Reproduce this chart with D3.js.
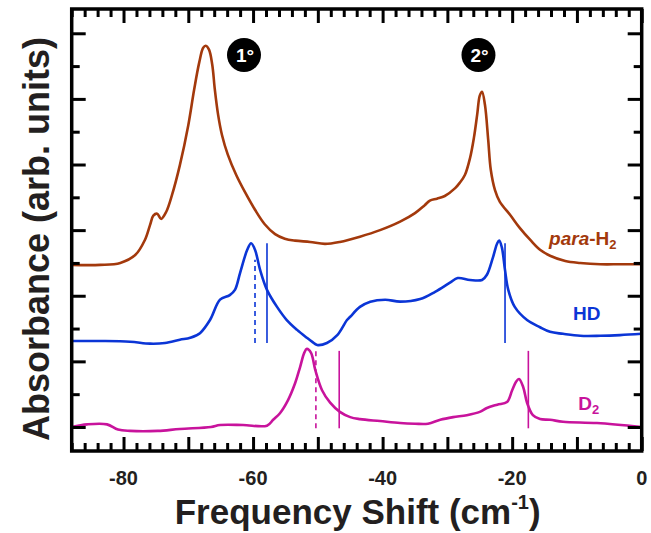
<!DOCTYPE html>
<html>
<head>
<meta charset="utf-8">
<script src="https://cdn.jsdelivr.net/npm/d3@7"></script>
<style>
	body { margin: 0; background: #fff; }
	svg text { font-family: "Liberation Sans", Arial, Helvetica, sans-serif; font-weight: bold; }
</style>
</head>
<body>
<div id="chart"></div>
<script>
// spectra: [frequency shift (cm-1), absorbance (offset, arb. units)]
const paraH2 = [
	[-88, 2.47], [-83.6, 2.47], [-80.5, 2.5], [-78.2, 2.62], [-76.7, 2.85], [-75.9, 3.08],
	[-75.4, 3.22], [-74.8, 3.25], [-74.2, 3.17], [-73.4, 3.28], [-72.5, 3.54], [-71.3, 3.99],
	[-70.0, 4.6], [-69.1, 5.14], [-68.3, 5.56], [-67.7, 5.78], [-67.3, 5.81], [-66.8, 5.75],
	[-66.3, 5.52], [-65.9, 5.14], [-65.4, 4.76], [-64.8, 4.45], [-63.9, 4.15], [-62.6, 3.84],
	[-61.2, 3.57], [-59.7, 3.31], [-58.2, 3.09], [-56.6, 2.94], [-55.1, 2.87], [-53.5, 2.84],
	[-51.2, 2.82], [-48.9, 2.79], [-46.6, 2.82], [-43.5, 2.9], [-40.4, 3.0], [-37.3, 3.13],
	[-35.0, 3.26], [-33.5, 3.38], [-32.7, 3.45], [-31.6, 3.48], [-30.4, 3.52], [-28.8, 3.64],
	[-28.1, 3.72], [-27.3, 3.84], [-26.5, 4.1], [-25.9, 4.41], [-25.4, 4.76], [-25.0, 5.05],
	[-24.65, 5.11], [-24.2, 4.91], [-23.7, 4.38], [-23.3, 3.92], [-22.65, 3.61], [-21.9, 3.43],
	[-20.3, 3.23], [-18.8, 3.03], [-17.2, 2.85], [-15.7, 2.7], [-14.15, 2.61], [-11.8, 2.53],
	[-9.5, 2.5], [-6.4, 2.48], [-3.35, 2.48], [0, 2.48]
];
const hd = [
	[-88, 1.31], [-83.6, 1.31], [-79.0, 1.3], [-75.9, 1.27], [-73.6, 1.28], [-71.3, 1.33],
	[-69.7, 1.36], [-68.2, 1.43], [-66.65, 1.63], [-65.1, 1.94], [-63.6, 2.01], [-62.8, 2.09],
	[-62.0, 2.35], [-60.9, 2.7], [-60.3, 2.8], [-59.7, 2.7], [-58.9, 2.39], [-57.85, 2.09],
	[-56.3, 1.83], [-54.8, 1.63], [-53.2, 1.48], [-51.7, 1.36], [-50.9, 1.3], [-50.1, 1.25],
	[-48.6, 1.28], [-47.0, 1.4], [-45.5, 1.63], [-45.0, 1.68], [-43.5, 1.83], [-41.9, 1.91],
	[-39.6, 1.94], [-37.3, 1.91], [-34.2, 1.95], [-31.9, 2.06], [-29.6, 2.2], [-28.4, 2.27],
	[-26.5, 2.24], [-24.65, 2.24], [-23.9, 2.32], [-22.95, 2.59], [-22.3, 2.8], [-22.0, 2.84],
	[-21.6, 2.74], [-21.1, 2.39], [-20.6, 2.09], [-19.6, 1.83], [-17.7, 1.63], [-15.7, 1.52],
	[-14.15, 1.45], [-12.15, 1.42], [-9.5, 1.39], [-6.4, 1.39], [-3.35, 1.4], [0, 1.42]
];
const d2 = [
	[-88, 0.0], [-85.6, 0.04], [-82.55, 0.04], [-80.85, -0.04], [-79.0, -0.06], [-74.7, -0.06],
	[-71.3, -0.03], [-66.5, 0.0], [-65.1, 0.03], [-61.55, 0.03], [-57.85, 0.02], [-56.9, 0.11],
	[-55.85, 0.21], [-54.6, 0.41], [-53.5, 0.67], [-52.75, 0.91], [-52.1, 1.13], [-51.7, 1.19],
	[-51.05, 1.13], [-50.4, 0.87], [-49.35, 0.56], [-48.1, 0.37], [-46.6, 0.23], [-45.0, 0.15],
	[-43.5, 0.12], [-40.4, 0.09], [-37.3, 0.06], [-35.0, 0.05], [-33.0, 0.05], [-31.1, 0.11],
	[-29.1, 0.15], [-27.0, 0.18], [-25.0, 0.23], [-23.9, 0.29], [-22.3, 0.34], [-20.8, 0.38],
	[-20.0, 0.56], [-19.4, 0.69], [-18.95, 0.73], [-18.3, 0.61], [-17.7, 0.37], [-16.8, 0.18],
	[-15.7, 0.12], [-14.15, 0.11], [-12.15, 0.08], [-6.9, 0.06], [0, 0.0]
];

// predicted positions: [x, yFrom, yTo]
const hdSolid = [[-57.85, 1.28, 2.8], [-21.1, 1.28, 2.8]];
const hdDashed = [[-59.7, 1.28, 2.55]];
const d2Solid = [[-46.7, -0.02, 1.16], [-17.5, -0.02, 1.16]];
const d2Dashed = [[-50.3, -0.02, 1.16]];

const xTicks = [-80, -60, -40, -20, 0];
const seriesLabels = ["para-H2", "HD", "D2"];
const bandLabels = ["1°", "2°"];

const colors = { h2: "#a3390c", hd: "#0b35d6", d2: "#c8139c" };

const W = 651;
const H = 533;
const margin = { top: 9, right: 9.3, bottom: 82, left: 71.7 };

const x = d3.scaleLinear().domain([-88, 0]).range([margin.left, W - margin.right]);
const y = d3.scaleLinear().domain([-0.366, 6.37]).range([H - margin.bottom, margin.top]);

const svg = d3.select("#chart").append("svg").attr("width", W).attr("height", H);

const line = d3.line()
	.x((d) => x(d[0]))
	.y((d) => y(d[1]))
	.curve(d3.curveCatmullRom.alpha(0.5));

// reference lines
const refLines = (data, color, dashed) => {
	svg.append("g")
		.selectAll("line")
		.data(data)
		.enter()
		.append("line")
		.attr("x1", (d) => x(d[0]))
		.attr("x2", (d) => x(d[0]))
		.attr("y1", (d) => y(d[1]))
		.attr("y2", (d) => y(d[2]))
		.attr("stroke", color)
		.attr("stroke-width", 1.6)
		.attr("stroke-dasharray", dashed ? "5,4" : null);
};
refLines(hdSolid, colors.hd, false);
refLines(hdDashed, colors.hd, true);
refLines(d2Solid, colors.d2, false);
refLines(d2Dashed, colors.d2, true);

[[paraH2, colors.h2], [hd, colors.hd], [d2, colors.d2]].forEach(([data, color]) => {
	svg.append("path")
		.datum(data)
		.attr("fill", "none")
		.attr("stroke", color)
		.attr("stroke-width", 2.6)
		.attr("stroke-linejoin", "round")
		.attr("d", line);
});

// axes, ticks pointing inward on all four sides
const xMajor = d3.range(-80, 1, 10);
const xMinor = d3.range(-88, 1, 2).filter((v) => v % 10 !== 0);
const yMajor = d3.range(0, 7, 1);
const yMinor = d3.range(0.5, 6, 1);

const addAxis = (axisFn, scale, values, size, transform) => {
	const g = svg.append("g")
		.attr("transform", transform)
		.call(axisFn(scale).tickValues(values).tickSize(size).tickFormat(""));
	g.select(".domain").remove();
	g.selectAll(".tick line").attr("stroke", "#000").attr("stroke-width", 3);
};
const bottomY = H - margin.bottom;
const rightX = W - margin.right;
addAxis(d3.axisBottom, x, xMajor, -14, `translate(0,${bottomY})`);
addAxis(d3.axisBottom, x, xMinor, -8, `translate(0,${bottomY})`);
addAxis(d3.axisTop, x, xMajor, -14, `translate(0,${margin.top})`);
addAxis(d3.axisTop, x, xMinor, -8, `translate(0,${margin.top})`);
addAxis(d3.axisLeft, y, yMajor, -14, `translate(${margin.left},0)`);
addAxis(d3.axisLeft, y, yMinor, -8, `translate(${margin.left},0)`);
addAxis(d3.axisRight, y, yMajor, -14, `translate(${rightX},0)`);
addAxis(d3.axisRight, y, yMinor, -8, `translate(${rightX},0)`);

svg.append("rect")
	.attr("x", margin.left)
	.attr("y", margin.top)
	.attr("width", rightX - margin.left)
	.attr("height", bottomY - margin.top)
	.attr("fill", "none")
	.attr("stroke", "#000")
	.attr("stroke-width", 3.5);

svg.append("g")
	.selectAll("text")
	.data(xTicks)
	.enter()
	.append("text")
	.attr("x", (d) => x(d))
	.attr("y", 485)
	.attr("text-anchor", "middle")
	.attr("font-size", 20)
	.attr("fill", "#231f20")
	.text((d) => d);

// axis titles
const xt = svg.append("text")
	.attr("x", (margin.left + rightX) / 2 + 1)
	.attr("y", 524)
	.attr("text-anchor", "middle")
	.attr("font-size", 35)
	.attr("fill", "#231f20");
xt.append("tspan").text("Frequency Shift (cm");
xt.append("tspan").attr("font-size", 20).attr("dy", -15).text("-1");
xt.append("tspan").attr("dy", 15).text(")");

svg.append("text")
	.attr("transform", `translate(49,${(margin.top + bottomY) / 2 + 9}) rotate(-90)`)
	.attr("text-anchor", "middle")
	.attr("font-size", 36)
	.attr("fill", "#231f20")
	.text("Absorbance (arb. units)");

// series labels
const lab1 = svg.append("text")
	.attr("x", x(-14.3))
	.attr("y", y(2.77))
	.attr("font-size", 19)
	.attr("fill", colors.h2);
lab1.append("tspan").attr("font-style", "italic").text("para");
lab1.append("tspan").text("-H");
lab1.append("tspan").attr("font-size", 13).attr("dy", 4).text("2");

svg.append("text")
	.attr("x", x(-10.6))
	.attr("y", y(1.63))
	.attr("font-size", 19)
	.attr("fill", colors.hd)
	.text(seriesLabels[1]);

const lab3 = svg.append("text")
	.attr("x", x(-9.8))
	.attr("y", y(0.26))
	.attr("font-size", 19)
	.attr("fill", colors.d2);
lab3.append("tspan").text("D");
lab3.append("tspan").attr("font-size", 13).attr("dy", 4).text("2");

// band markers
const bands = [[-61.4, 5.67], [-25.2, 5.67]];
bands.forEach((b, i) => {
	svg.append("circle")
		.attr("cx", x(b[0]))
		.attr("cy", y(b[1]))
		.attr("r", 17)
		.attr("fill", "#000");
	svg.append("text")
		.attr("x", x(b[0]) + 1)
		.attr("y", y(b[1]) + 7)
		.attr("text-anchor", "middle")
		.attr("font-size", 19)
		.attr("fill", "#fff")
		.text(bandLabels[i]);
});
</script>
</body>
</html>
